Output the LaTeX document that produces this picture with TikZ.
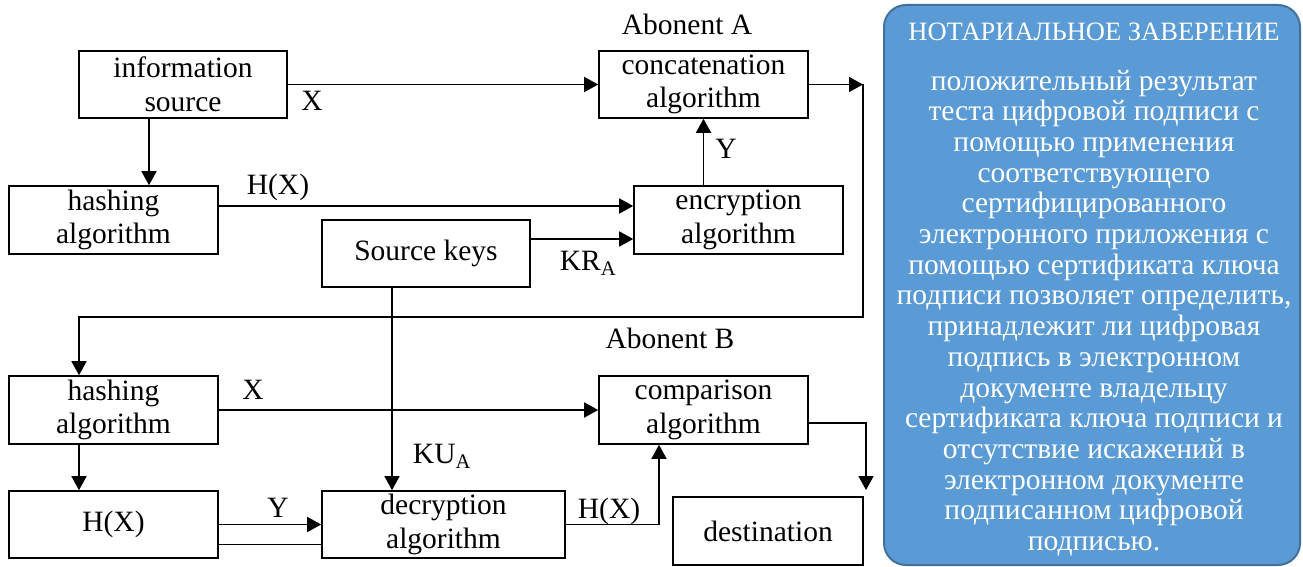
\documentclass[tikz,border=0pt]{standalone}
\usepackage{fontspec}
\setmainfont{Liberation Serif}
\usetikzlibrary{arrows.meta,calc}
\definecolor{panelfill}{HTML}{5B9BD5}
\definecolor{panelborder}{HTML}{41719C}
\begin{document}
\begin{tikzpicture}[x=1pt,y=-1pt,
  box/.style={draw, line width=1.6pt, inner sep=0pt, align=center, font=\fontsize{29.5}{33.5}\selectfont},
  lbl/.style={inner sep=0pt, font=\fontsize{29.5}{33}\selectfont},
  conn/.style={line width=1.6pt},
  arr/.style={conn, -{Triangle[length=14pt,width=15pt]}}]
\useasboundingbox (0,0) rectangle (1303,567);
% boxes
\node[box, minimum width=208pt, minimum height=67pt] (info) at (183,84.5) {information\\source};
\node[box, minimum width=209pt, minimum height=68pt] (hash1) at (113.5,220) {hashing\\algorithm};
\node[box, minimum width=208pt, minimum height=67pt] (keys) at (426,253.5) {Source keys};
\node[box, minimum width=209pt, minimum height=67pt] (concat) at (703.5,84.5) {concatenation\\algorithm};
\node[box, minimum width=209pt, minimum height=68pt] (enc) at (738.5,220) {encryption\\algorithm};
\node[box, minimum width=209pt, minimum height=68pt] (hash2) at (113.5,410) {hashing\\algorithm};
\node[box, minimum width=209pt, minimum height=68pt] (cmp) at (703.5,410) {comparison\\algorithm};
\node[box, minimum width=209pt, minimum height=67pt] (hx) at (113.5,524.5) {H(X)};
\node[box, minimum width=243pt, minimum height=67pt] (dec) at (443.5,524.5) {decryption\\algorithm};
\node[box, minimum width=190pt, minimum height=68pt] (dest) at (768,531) {destination};
% connectors
\coordinate (a1) at ([xshift=-34pt]info.south);
\draw[arr] (a1) -- (a1 |- hash1.north);
\draw[arr] (info.east) -- (concat.west);
\coordinate (r1) at (863,84.5);
\draw[arr] (concat.east) -- (r1);
\coordinate (r2) at (863,317);
\coordinate (h2in) at ([xshift=-34.5pt]hash2.north);
\draw[arr] (r1) -- (r2) -| (h2in);
\coordinate (e1) at ([yshift=14pt]enc.west);
\draw[arr] (e1 -| hash1.east) -- (e1);
\coordinate (e2) at ([yshift=-19pt]enc.west);
\draw[arr] (e2 -| keys.east) -- (e2);
\draw[arr] (enc.north -| concat.south) -- (concat.south);
\coordinate (kd) at ([xshift=-34pt]keys.south);
\draw[arr] (kd) -- (kd |- dec.north);
\draw[arr] (hash2.east) -- (cmp.west);
\coordinate (h2o) at ([xshift=-34.5pt]hash2.south);
\draw[arr] (h2o) -- (h2o |- hx.north);
\draw[arr] (hx.east) -- (dec.west);
\draw[conn] ([yshift=-20pt]hx.east) -- ([yshift=-20pt]dec.west);
\coordinate (c1) at (659,524.5);
\draw[arr] (dec.east) -- (c1) -- (c1 |- cmp.south);
\coordinate (d1) at ([yshift=-13pt]cmp.east);
\coordinate (d2) at (866,490);
\draw[arr] (d1) -| (d2);
% labels
\node[lbl] (abA) at (687,24) {Abonent A};
\node[lbl] (abB) at (670,338) {Abonent B};
\node[lbl] (lx1) at (312,101) {X};
\node[lbl] (lh1) at (278,187) {H(X)};
\node[lbl] (lkr) at (588,263) {KR\textsubscript{A}};
\node[lbl] (ly1) at (726,149) {Y};
\node[lbl] (lx2) at (253,390) {X};
\node[lbl] (lku) at (442,456) {KU\textsubscript{A}};
\node[lbl] (ly2) at (278,508) {Y};
\node[lbl] (lh2) at (609,511) {H(X)};
% right panel
\node[draw=panelborder, fill=panelfill, line width=2pt, rounded corners=22pt, minimum width=416pt, minimum height=560pt, inner sep=0pt] (panel) at (1092,285) {};
\node[text=white, inner sep=0pt, font=\fontsize{26.5}{30}\selectfont] (ptitle) at (1094,32) {НОТАРИАЛЬНОЕ ЗАВЕРЕНИЕ};
\node[text=white, inner sep=0pt, align=center, font=\fontsize{29.5}{30.7}\selectfont] (pbody) at (1094,313) {положительный результат\\теста цифровой подписи с\\помощью применения\\соответствующего\\сертифицированного\\электронного приложения с\\помощью сертификата ключа\\подписи позволяет определить,\\принадлежит ли цифровая\\подпись в электронном\\документе владельцу\\сертификата ключа подписи и\\отсутствие искажений в\\электронном документе\\подписанном цифровой\\подписью.};
\end{tikzpicture}
\end{document}
